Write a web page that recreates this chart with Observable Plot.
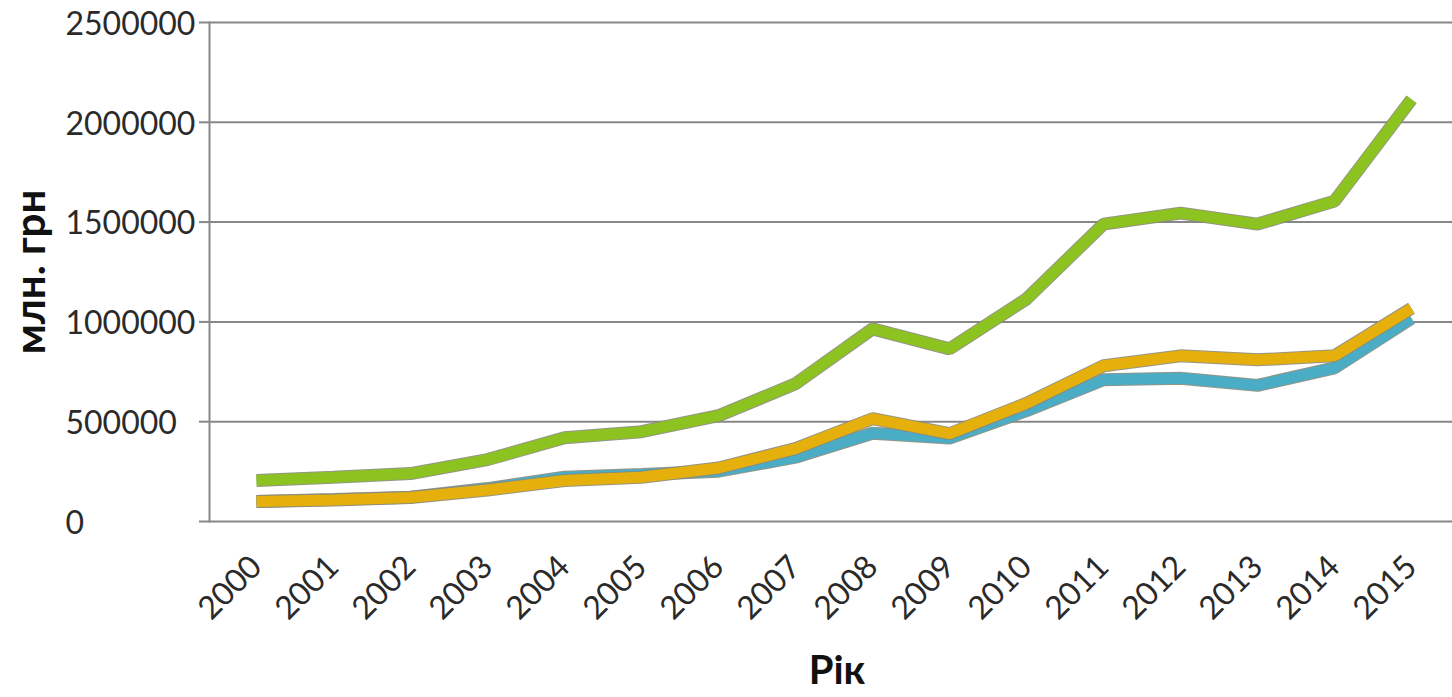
<!DOCTYPE html>
<html>
<head>
<meta charset="utf-8">
<script src="https://cdn.jsdelivr.net/npm/d3@7"></script>
<script src="https://cdn.jsdelivr.net/npm/@observablehq/plot@0.6"></script>
<style>
  html, body { margin: 0; padding: 0; background: #ffffff; }
  #chart { width: 1452px; height: 697px; }
</style>
</head>
<body>
<div id="chart"></div>
<script>
// ---- data ----
const years = [2000, 2001, 2002, 2003, 2004, 2005, 2006, 2007, 2008, 2009, 2010, 2011, 2012, 2013, 2014, 2015];
const greenSeries  = [205000, 222000, 240000, 310000, 420000, 450000, 530000, 690000, 965000, 865000, 1115000, 1490000, 1545000, 1490000, 1605000, 2115000];
const orangeSeries = [100000, 108000, 120000, 158000, 205000, 222000, 268000, 365000, 515000, 440000, 592000, 780000, 830000, 810000, 830000, 1068000];
const tealSeries   = [100000, 110000, 122000, 165000, 222000, 235000, 252000, 322000, 442000, 418000, 555000, 710000, 718000, 682000, 770000, 1018000];
const yTicks = [0, 500000, 1000000, 1500000, 2000000, 2500000];
const yTitle = "млн. грн";
const xTitle = "Рік";

const toRows = (vals) => years.map((year, i) => ({year, value: vals[i]}));
const series = [
  {rows: toRows(tealSeries),   color: "#4aacc5"},
  {rows: toRows(orangeSeries), color: "#e6b00c"},
  {rows: toRows(greenSeries),  color: "#8dc320"}
];

const gridColor = "#878787";
const font = "Lato, 'Open Sans', 'Noto Sans', sans-serif";

const lineMarks = series.flatMap(s => [
  Plot.line(s.rows, {x: "year", y: "value", stroke: "#8a8a7a", strokeWidth: 13, strokeLinejoin: "miter", strokeLinecap: "butt", strokeOpacity: 0.9}),
  Plot.line(s.rows, {x: "year", y: "value", stroke: s.color, strokeWidth: 11, strokeLinejoin: "miter", strokeLinecap: "butt"})
]);

const chart = Plot.plot({
  width: 1452,
  height: 697,
  marginLeft: 209,
  marginRight: 0,
  marginTop: 22,
  marginBottom: 176,
  style: {fontFamily: font, background: "#ffffff", color: "#222"},
  x: {type: "point", domain: years, range: [249, 1418], padding: 0, axis: null},
  y: {domain: [0, 2500000], axis: null},
  marks: [
    Plot.gridY(yTicks, {stroke: gridColor, strokeOpacity: 1, strokeWidth: 2}),
    Plot.axisY(yTicks, {tickSize: 10, tickFormat: () => "", stroke: gridColor, strokeWidth: 2, label: null}),
    Plot.frame({anchor: "left", stroke: gridColor, strokeWidth: 2}),
    ...lineMarks,
    Plot.text(yTicks, {y: d => d, text: d => d3.format("d")(d), frameAnchor: "left", textAnchor: "start", lineAnchor: "middle", dx: 65 - 209, dy: 2, fontSize: 32, fill: "#2a2a2a"}),
    Plot.text(years, {x: d => d, text: d => String(d), frameAnchor: "bottom", rotate: -45, textAnchor: "end", lineAnchor: "middle", dx: 0, dy: 40, fontSize: 32, fill: "#2a2a2a"}),
    Plot.text([yTitle], {text: d => d, frameAnchor: "left", textAnchor: "middle", lineAnchor: "middle", rotate: -90, dx: 31 - 209, fontSize: 42, fontWeight: "bold", fill: "#111"}),
    Plot.text([xTitle], {text: d => d, frameAnchor: "bottom", textAnchor: "middle", lineAnchor: "middle", dx: 6, dy: 150, fontSize: 40, fontWeight: "bold", fill: "#111"})
  ]
});
document.getElementById("chart").appendChild(chart);
</script>
</body>
</html>
